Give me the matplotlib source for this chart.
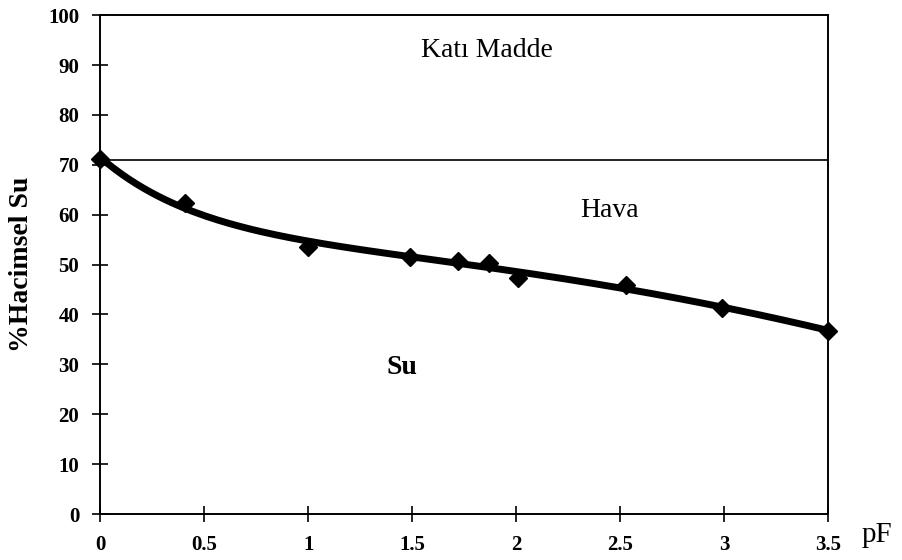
import numpy as np
import matplotlib
matplotlib.use('Agg')
import matplotlib.pyplot as plt

# pF vs volumetric water content (%)
pf = [0.0, 0.41, 1.0, 1.49, 1.72, 1.87, 2.01, 2.53, 2.99, 3.5]
su = [71.2, 62.3, 53.5, 51.5, 50.7, 50.3, 47.3, 45.9, 41.3, 36.7]
doygunluk = 71.0  # total porosity line

xticks = [0, 0.5, 1, 1.5, 2, 2.5, 3, 3.5]
xtick_labels = ['0', '0.5', '1', '1.5', '2', '2.5', '3', '3.5']
yticks = list(range(0, 101, 10))

plt.rcParams['font.family'] = ['Liberation Serif', 'DejaVu Serif']

fig = plt.figure(figsize=(9.02, 5.6), dpi=100)
ax = fig.add_axes([0.111, 0.082, 0.807, 0.891])

# trend curve: least squares fit of a + b*x + c*x^2 + d*exp(-2x)
x = np.array(pf)
A = np.column_stack([np.ones_like(x), x, x ** 2, np.exp(-2 * x)])
coef, *_ = np.linalg.lstsq(A, np.array(su), rcond=None)
xs = np.linspace(0, 3.5, 200)
ys = coef[0] + coef[1] * xs + coef[2] * xs ** 2 + coef[3] * np.exp(-2 * xs)
ax.plot(xs, ys, color='black', lw=5, solid_capstyle='round', zorder=3)
ax.plot(pf, su, 'D', color='black', markersize=9, zorder=4, clip_on=False)
ax.axhline(doygunluk, color='black', lw=1.2)

ax.set_xlim(0, 3.5)
ax.set_ylim(0, 100)
ax.set_xticks(xticks)
ax.set_xticklabels(xtick_labels)
ax.set_yticks(yticks)
ax.tick_params(direction='inout', length=12, width=1.2, labelsize=15, pad=9)
for lbl in ax.get_xticklabels() + ax.get_yticklabels():
    lbl.set_fontweight('bold')
for s in ax.spines.values():
    s.set_linewidth(1.4)

ax.set_ylabel('%Hacimsel Su', fontsize=20, fontweight='bold', labelpad=10)

ax.text(1.86, 93, 'Katı Madde', fontsize=20, ha='center', va='center')
ax.text(2.45, 60.8, 'Hava', fontsize=20, ha='center', va='center')
ax.text(1.45, 29.3, 'Su', fontsize=20, ha='center', va='center', fontweight='bold')
fig.text(0.972, 0.045, 'pF', fontsize=21, ha='center', va='center')

fig.savefig('out.png', dpi=100)
